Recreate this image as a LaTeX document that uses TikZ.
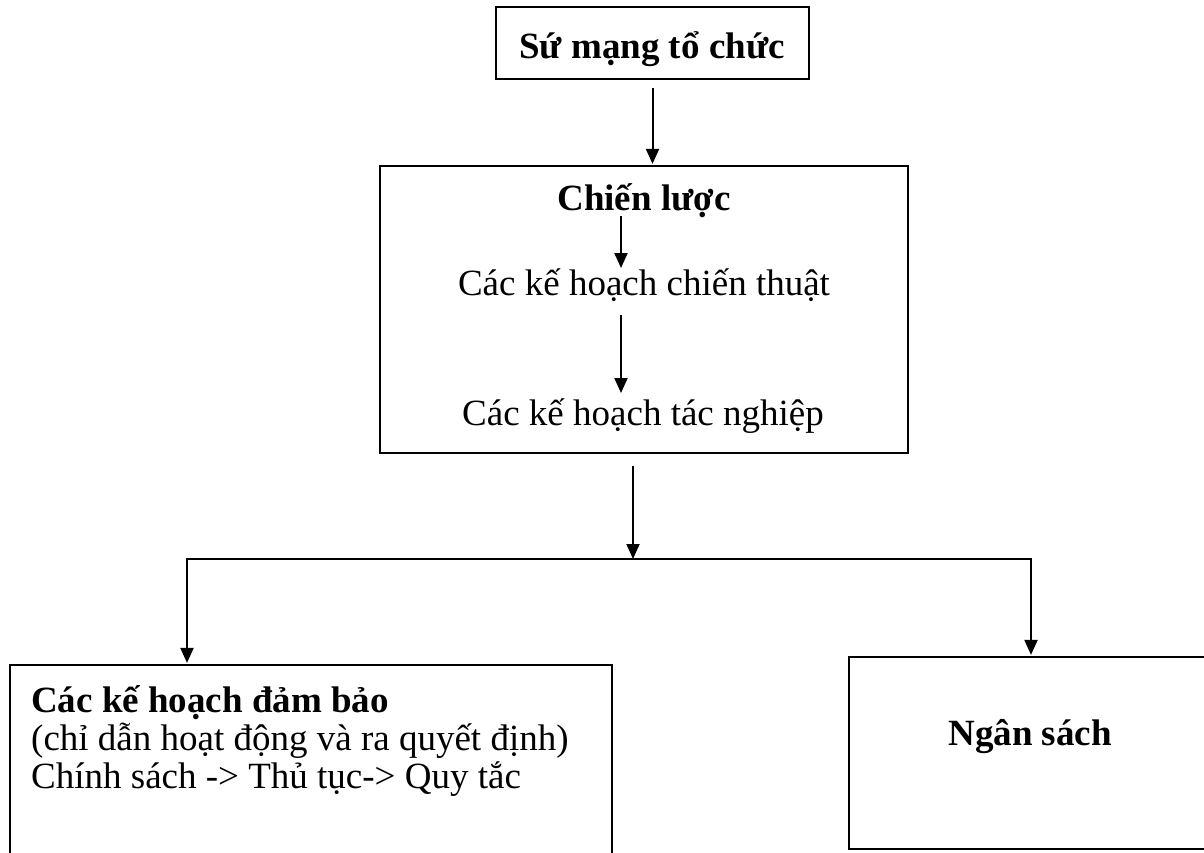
\documentclass[tikz,border=0pt]{standalone}
\usepackage{fontspec}
\setmainfont{Liberation Serif}
\usetikzlibrary{arrows.meta,calc}

\begin{document}
\begin{tikzpicture}[x=1pt,y=-1pt,
  every node/.style={font=\fontsize{37}{38}\selectfont},
  frame/.style={draw=black,line width=2.2pt,rectangle,inner sep=0pt},
  label/.style={inner sep=0pt,anchor=base},
  arr/.style={line width=2pt,-{Triangle[length=15pt,width=13pt]}},
  link/.style={line width=2pt}]
\useasboundingbox (0,0) rectangle (1204,852);

% top box
\node[frame,minimum width=313pt,minimum height=72pt] (mission) at (652.5,43) {};
\node[label] (missiontxt) at (652,58) {\textbf{Sứ mạng tổ chức}};

% strategy box with its inner chain
\node[frame,minimum width=528pt,minimum height=287pt] (strat) at (644,309.5) {};
\node[label] (cl) at (644,210) {\textbf{Chiến lược}};
\node[label] (ct) at (644,295) {Các kế hoạch chiến thuật};
\node[label] (tn) at (643,425) {Các kế hoạch tác nghiệp};

% lower boxes
\node[frame,minimum width=602pt,minimum height=240pt] (plans) at (311,785) {};
\node[label,anchor=base west] (p1) at (31,712) {\textbf{Các kế hoạch đảm bảo}};
\node[label,anchor=base west] (p2) at (31,750) {(chỉ dẫn hoạt động và ra quyết định)};
\node[label,anchor=base west] (p3) at (31,788) {Chính sách -> Thủ tục-> Quy tắc};

\node[frame,minimum width=370pt,minimum height=192pt] (budget) at (1034,753) {};
\node[label] (bt) at (1030,745) {\textbf{Ngân sách}};

% connectors
\draw[arr] ([yshift=-8pt]mission.south) -- ([yshift=1pt]strat.north -| mission.south);
\draw[arr] ([xshift=-23pt,yshift=1pt]cl.south) -- ([xshift=-23pt,yshift=0pt]ct.north);
\draw[arr] ([xshift=-23pt,yshift=-14pt]ct.south) -- ([xshift=-22pt,yshift=5pt]tn.north);

\coordinate (j) at (633,559);
\coordinate (jl) at (187,559);
\coordinate (jr) at (1031,559);
\draw[arr] ([xshift=-11pt,yshift=-12pt]strat.south) -- (j);
\draw[link] ([xshift=-1pt]jl) -- ([xshift=1pt]jr);
\draw[arr] (jl) -- ([yshift=1pt]plans.north -| jl);
\draw[arr] (jr) -- ([yshift=1pt]budget.north -| jr);
\end{tikzpicture}
\end{document}
